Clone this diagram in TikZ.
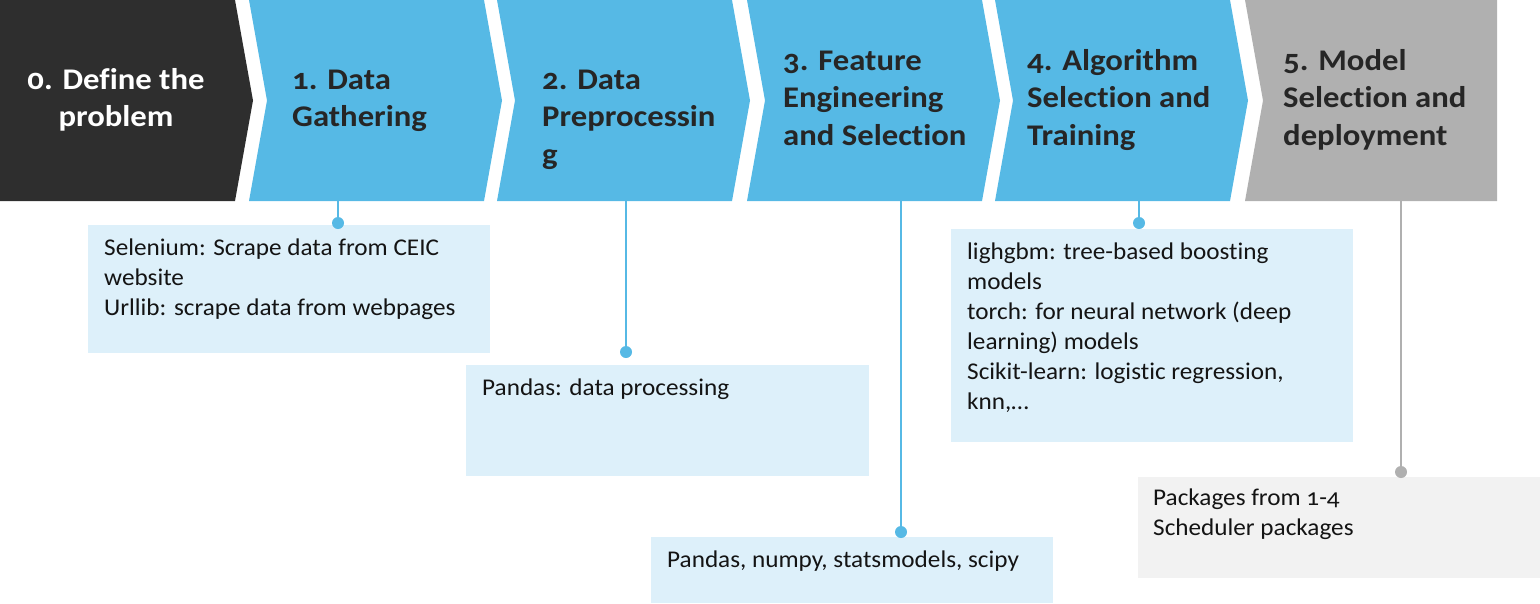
\documentclass[tikz,border=0pt]{standalone}
\usepackage{fontspec}
\setmainfont{Carlito}[Numbers=OldStyle, Ligatures=CommonOff]
\newfontfamily\titlefont{Carlito}[Numbers=OldStyle, Ligatures=CommonOff, FakeStretch=1.09]
\newfontfamily\boxfont{Carlito}[Numbers=OldStyle, Ligatures=CommonOff, FakeStretch=1.05]
\definecolor{cblue}{HTML}{56B9E5}
\definecolor{cdark}{HTML}{2E2E2E}
\definecolor{cgray}{HTML}{B0B0B0}
\definecolor{lblue}{HTML}{DDF0FA}
\definecolor{lgray}{HTML}{F2F2F2}
\definecolor{ttext}{HTML}{262626}
\definecolor{btext}{HTML}{141414}
\begin{document}
\begin{tikzpicture}[x=1pt,y=-1pt,
  title/.style={anchor=north west, inner sep=0pt, align=left, text=ttext,
    font=\titlefont\fontsize{30}{37.5}\selectfont\bfseries},
  infobox/.style={anchor=north west, inner sep=0pt, outer sep=0pt, fill=lblue},
  infotext/.style={anchor=north west, inner sep=0pt, align=left, text=btext,
    font=\boxfont\fontsize{24}{30}\selectfont},
  dot/.style={circle, fill=cblue, inner sep=0pt, minimum size=12pt},
  conn/.style={draw=cblue, line width=1.2pt}]
\useasboundingbox (0,0) rectangle (1540,603);
\newcommand{\tstrut}{\rule{0pt}{24pt}}
\newcommand{\bstrut}{\rule{0pt}{20pt}}
% chevrons
\fill[cdark] (0,0) -- (235,0) -- (253,100.5) -- (235,201) -- (0,201) -- cycle;
\fill[cblue] (249,0) -- (484,0) -- (502,100.5) -- (484,201) -- (249,201) -- (267,100.5) -- cycle;
\fill[cblue] (497,0) -- (732,0) -- (750,100.5) -- (732,201) -- (497,201) -- (515,100.5) -- cycle;
\fill[cblue] (747,0) -- (982,0) -- (1000,100.5) -- (982,201) -- (747,201) -- (765,100.5) -- cycle;
\fill[cblue] (995,0) -- (1230,0) -- (1248,100.5) -- (1230,201) -- (995,201) -- (1013,100.5) -- cycle;
\fill[cgray] (1245,0) -- (1497,0) -- (1497,201) -- (1245,201) -- (1263,100.5) -- cycle;
% titles
\node[title, anchor=north, align=center, text=white] (t0) at (116,65) {\tstrut 0. Define the\\problem};
\node[title] (t1) at (292,65) {\tstrut 1. Data\\Gathering};
\node[title] (t2) at (542,65) {\tstrut 2. Data\\Preprocessin\\g};
\node[title] (t3) at (783,46) {\tstrut 3. Feature\\Engineering\\and Selection};
\node[title] (t4) at (1027,46) {\tstrut 4. Algorithm\\Selection and\\Training};
\node[title] (t5) at (1283,46) {\tstrut 5. Model\\Selection and\\deployment};
% connector start points
\coordinate (s1) at (338,201);
\coordinate (s2) at (626,201);
\coordinate (s3) at (901,201);
\coordinate (s4) at (1139,201);
\coordinate (s5) at (1401,201);
% boxes
\node[infobox, minimum width=402pt, minimum height=128pt] (b1) at (88,225) {};
\node[infobox, minimum width=403pt, minimum height=111pt] (b2) at (466,365) {};
\node[infobox, minimum width=402pt, minimum height=66pt] (b3) at (651,537) {};
\node[infobox, minimum width=402pt, minimum height=213pt] (b4) at (951,229) {};
\node[infobox, fill=lgray, minimum width=402pt, minimum height=101pt] (b5) at (1138,477) {};
% connectors and dots
\node[dot] (d1) at (338,223) {};
\node[dot] (d2) at (626,352) {};
\node[dot] (d3) at (901,532) {};
\node[dot] (d4) at (1139,223) {};
\node[dot, fill=cgray] (d5) at (1401,472) {};
\draw[conn] (s1) -- (d1);
\draw[conn] (s2) -- (d2);
\draw[conn] (s3) -- (d3);
\draw[conn] (s4) -- (d4);
\draw[conn, draw=cgray] (s5) -- (d5);
% box texts
\node[infotext] (x1) at (104,235) {\bstrut Selenium: Scrape data from CEIC\\website\\Urllib: scrape data from webpages};
\node[infotext] (x2) at (482,375) {\bstrut Pandas: data processing};
\node[infotext] (x3) at (667,547) {\bstrut Pandas, numpy, statsmodels, scipy};
\node[infotext] (x4) at (967,239) {\bstrut lighgbm: tree-based boosting\\models\\torch: for neural network (deep\\learning) models\\Scikit-learn: logistic regression,\\knn,\dots};
\node[infotext] (x5) at (1153,485) {\bstrut Packages from 1-4\\Scheduler packages};
\end{tikzpicture}
\end{document}
